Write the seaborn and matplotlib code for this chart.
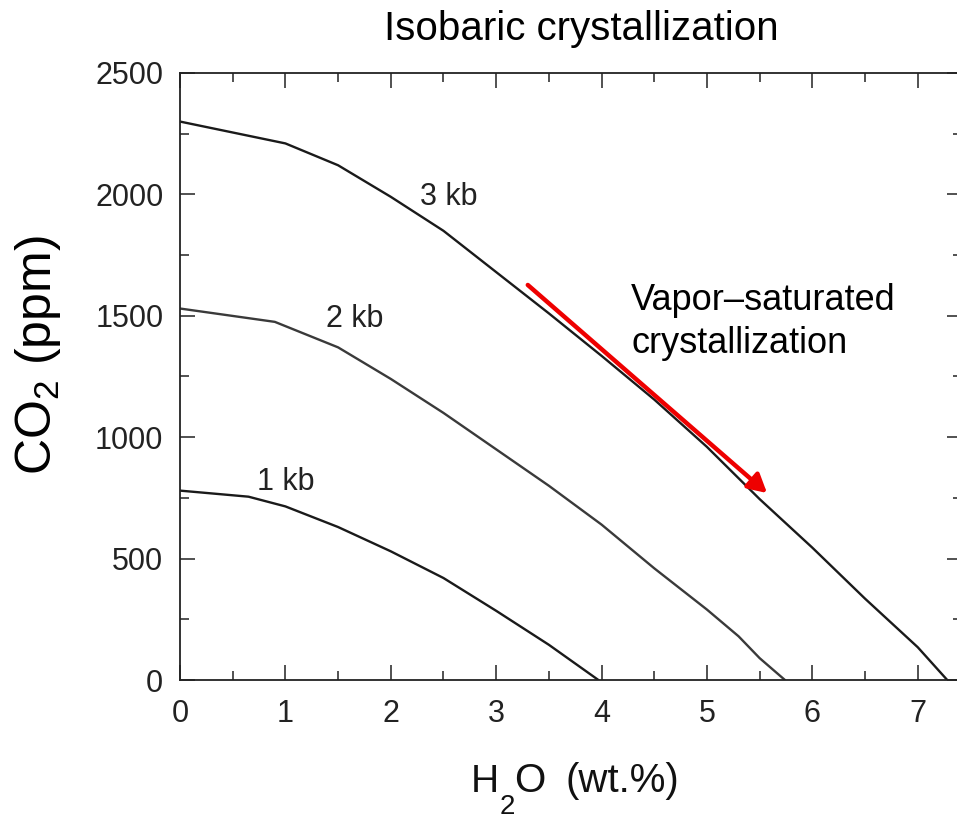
import numpy as np
import pandas as pd
import matplotlib
matplotlib.use("Agg")
import matplotlib.pyplot as plt
from matplotlib.ticker import MultipleLocator
import seaborn as sns

# ---- data ----
h2o_3kb = [0.0, 1.0, 1.5, 2.0, 2.5, 3.0, 3.5, 4.0, 4.5, 5.0, 5.5, 6.0, 6.5, 7.0, 7.28]
co2_3kb = [2300, 2210, 2120, 1990, 1850, 1680, 1510, 1335, 1155, 960, 745, 545, 335, 135, 0]

h2o_2kb = [0.0, 0.9, 1.5, 2.0, 2.5, 3.0, 3.5, 4.0, 4.5, 5.0, 5.3, 5.5, 5.74]
co2_2kb = [1530, 1475, 1370, 1240, 1100, 950, 800, 640, 460, 290, 180, 90, 0]

h2o_1kb = [0.0, 0.65, 1.0, 1.5, 2.0, 2.5, 3.0, 3.5, 3.97]
co2_1kb = [780, 755, 715, 630, 530, 420, 285, 145, 0]

pressures = ["1 kb", "2 kb", "3 kb"]
label_pos = {"3 kb": (2.28, 1956), "2 kb": (1.39, 1454), "1 kb": (0.73, 782)}
arrow_start = (3.30, 1627)
arrow_end = (5.57, 770)

sns.set_style("ticks")
plt.rcParams["font.family"] = ["Liberation Sans", "DejaVu Sans"]
plt.rcParams["mathtext.fontset"] = "custom"
plt.rcParams["mathtext.rm"] = "Liberation Sans"
plt.rcParams["mathtext.it"] = "Liberation Sans:italic"
plt.rcParams["mathtext.bf"] = "Liberation Sans:bold"

df = pd.concat([
    pd.DataFrame({"H2O": h2o_1kb, "CO2": co2_1kb, "P": "1 kb"}),
    pd.DataFrame({"H2O": h2o_2kb, "CO2": co2_2kb, "P": "2 kb"}),
    pd.DataFrame({"H2O": h2o_3kb, "CO2": co2_3kb, "P": "3 kb"}),
])

W, H = 957, 821
fig = plt.figure(figsize=(W / 100, H / 100), dpi=100)
ax = fig.add_axes([180 / W, 141 / H, 782 / W, 607 / H])

colors = {"1 kb": "#1a1a1a", "2 kb": "#3a3a3a", "3 kb": "#1a1a1a"}
for p in pressures:
    sub = df[df["P"] == p]
    sns.lineplot(data=sub, x="H2O", y="CO2", ax=ax, color=colors[p],
                 lw=1.7, sort=False, estimator=None, legend=False)

for p in pressures:
    x, y = label_pos[p]
    ax.text(x, y, p, fontsize=22, color="#222222", ha="left", va="baseline")

ax.annotate("", xy=arrow_end, xytext=arrow_start,
            arrowprops=dict(arrowstyle="-|>,head_length=0.55,head_width=0.3",
                            color="#ee0000", lw=3.2, mutation_scale=20,
                            shrinkA=0, shrinkB=0))

ax.text(4.28, (680 - 310) / 0.2428, "Vapor\u2013saturated", fontsize=26,
        color="black", ha="left", va="baseline")
ax.text(4.28, (680 - 353) / 0.2428, "crystallization", fontsize=26,
        color="black", ha="left", va="baseline")

ax.set_xlim(0, 7.42)
ax.set_ylim(0, 2500)
ax.xaxis.set_major_locator(MultipleLocator(1))
ax.xaxis.set_minor_locator(MultipleLocator(0.5))
ax.yaxis.set_major_locator(MultipleLocator(500))
ax.yaxis.set_minor_locator(MultipleLocator(250))
ax.tick_params(which="both", direction="in", top=True, right=True,
               width=1.1, color="#222222")
ax.tick_params(which="major", length=11, labelsize=22, labelcolor="#222222")
ax.tick_params(axis="x", which="major", pad=14)
ax.tick_params(axis="y", which="major", pad=12)
ax.tick_params(which="minor", length=6.5)
for s in ax.spines.values():
    s.set_linewidth(1.3)
    s.set_color("#222222")
ax.set_xlabel("")
ax.set_ylabel("")

fig.text(581 / W, 1 - 40 / H, "Isobaric crystallization", fontsize=29,
         ha="center", va="baseline", color="black")
fig.text(38 / W, 1 - 355 / H, "CO$_2$ (ppm)", fontsize=36, rotation=90,
         ha="center", va="center", color="black")
# x label: H, subscript 2 hanging below the baseline, then O (wt.%)
fig.text(471 / W, 1 - 792 / H, "H", fontsize=28, ha="left", va="baseline", color="#111111")
fig.text(500 / W, 1 - 814 / H, "2", fontsize=20, ha="left", va="baseline", color="#111111")
fig.text(514 / W, 1 - 792 / H, "O", fontsize=29, ha="left", va="baseline", color="#111111")
fig.text(566 / W, 1 - 792 / H, "(wt.%)", fontsize=29, ha="left", va="baseline", color="#111111")

fig.savefig("out.png", dpi=100)
